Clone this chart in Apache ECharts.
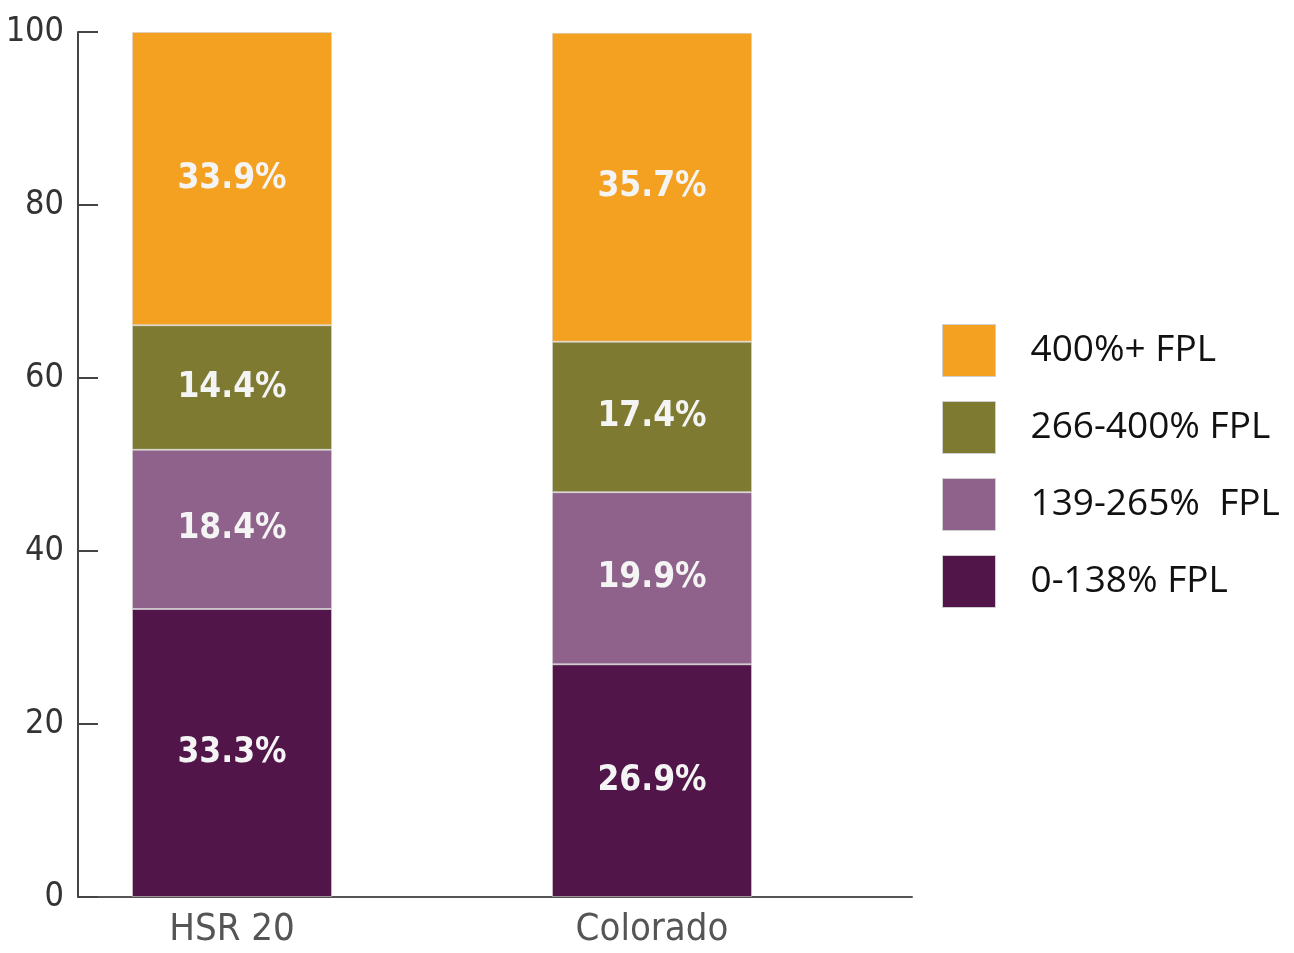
<!DOCTYPE html>
<html>
<head>
<meta charset="utf-8">
<script src="https://cdn.jsdelivr.net/npm/echarts@6/dist/echarts.min.js"></script>
<style>html,body{margin:0;padding:0;background:#fff}#c{width:1294px;height:953px}</style>
</head>
<body>
<div id="c"></div>
<script>
const categories = ['HSR 20', 'Colorado'];
const seriesNames = ['0-138% FPL', '139-265%  FPL', '266-400% FPL', '400%+ FPL'];
const v0_138 = [33.3, 26.9];
const v139_265 = [18.4, 19.9];
const v266_400 = [14.4, 17.4];
const v400plus = [33.9, 35.7];
const yTicks = [0, 20, 40, 60, 80, 100];
const colors = ['#52154A', '#8E628A', '#7F7A32', '#F4A020'];

const condensed = "'Liberation Sans Narrow', 'DejaVu Sans Condensed', Roboto, sans-serif";
const values = [v0_138, v139_265, v266_400, v400plus];

const chart = echarts.init(document.getElementById('c'));
chart.setOption({
  animation: false,
  backgroundColor: '#fff',
  legend: {
    orient: 'vertical',
    left: 942,
    top: 324,
    padding: 0,
    itemWidth: 53,
    itemHeight: 52,
    itemGap: 24,
    data: seriesNames.slice().reverse(),
    icon: 'rect',
    textStyle: { fontFamily: "'Open Sans', 'Noto Sans', sans-serif", fontSize: 37, color: '#111', padding: [0, 0, 0, 30] },
    itemStyle: { borderColor: '#cfcfcf', borderWidth: 1 }
  },
  grid: [
    { left: 78, right: 382, top: 32, bottom: 56 },
    { left: 22, right: 432, top: 32, bottom: 56 }
  ],
  xAxis: [
    { gridIndex: 0, type: 'value', min: 0, max: 1, axisLine: { show: true, lineStyle: { color: '#555', width: 2 } },
      axisTick: { show: false }, axisLabel: { show: false }, splitLine: { show: false } },
    { gridIndex: 1, type: 'category', data: categories, axisLine: { show: false }, axisTick: { show: false },
      axisLabel: { fontFamily: condensed, fontSize: 38, color: '#555', margin: 14 } }
  ],
  yAxis: [
    { gridIndex: 0, type: 'value', min: 0, max: 100, interval: 20,
      axisLine: { show: true, lineStyle: { color: '#444', width: 2 } },
      axisTick: { show: true, inside: true, length: 20, lineStyle: { color: '#444', width: 2 } },
      axisLabel: { fontFamily: condensed, fontSize: 34, color: '#333', margin: 14,
        formatter: v => yTicks.includes(v) ? String(v) : '' },
      splitLine: { show: false } },
    { gridIndex: 1, type: 'value', min: 0, max: 100, show: false }
  ],
  series: seriesNames.map((name, i) => ({
    name,
    type: 'bar',
    stack: 'total',
    xAxisIndex: 1,
    yAxisIndex: 1,
    barWidth: 200,
    data: values[i],
    itemStyle: { color: colors[i], borderColor: 'rgba(210,210,210,0.6)', borderWidth: 1 },
    label: {
      show: true,
      position: 'inside',
      formatter: p => p.value.toFixed(1) + '%',
      fontFamily: condensed,
      fontWeight: 'bold',
      fontSize: 35,
      color: '#f4f4f4'
    }
  }))
});
</script>
</body>
</html>
